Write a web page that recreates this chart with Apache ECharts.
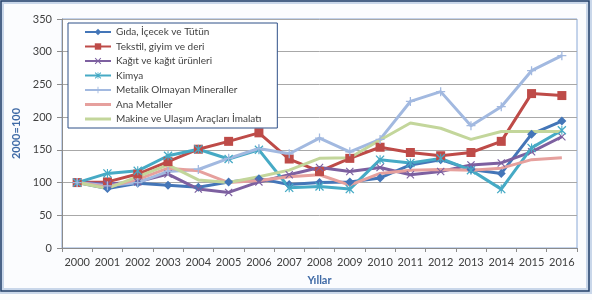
<!DOCTYPE html>
<html>
<head>
<meta charset="utf-8">
<script src="https://cdn.jsdelivr.net/npm/echarts@6.0.0/dist/echarts.min.js"></script>
<style>
  html, body { margin: 0; padding: 0; background: #fff; }
  #chart { width: 592px; height: 300px; }
</style>
</head>
<body>
<div id="chart"></div>
<script>
// --- Data ---

const years = ['2000', '2001', '2002', '2003', '2004', '2005', '2006', '2007', '2008',
    '2009', '2010', '2011', '2012', '2013', '2014', '2015', '2016'];

const gida     = [100, 91, 99, 96, 93, 101, 106, 97, 100, 101, 107, 127, 135, 120, 114, 174, 194];
const tekstil  = [100, 101, 113, 132, 151, 163, 176, 136, 117, 137, 154, 146, 141, 146, 163, 236, 233];
const kagit    = [100, 98, 101, 113, 90, 85, 101, 112, 123, 117, 123, 112, 117, 127, 130, 147, 170];
const kimya    = [100, 114, 118, 141, 151, 136, 150, 92, 94, 90, 135, 130, 137, 119, 90, 153, 180];
const metalik  = [100, 95, 100, 117, 120, 137, 152, 144, 168, 147, 166, 224, 239, 187, 216, 271, 294];
const anaMetal = [100, 93, 105, 122, 118, 100, 103, 109, 112, 96, 114, 119, 120, 119, 122, 135, 138];
const makine   = [100, 91, 109, 127, 104, 100, 109, 119, 137, 138, 165, 191, 183, 166, 178, 178, 178];

const seriesNames = ['Gıda, İçecek ve Tütün', 'Tekstil, giyim ve deri', 'Kağıt ve kağıt ürünleri',
    'Kimya', 'Metalik Olmayan Mineraller', 'Ana Metaller', 'Makine ve Ulaşım Araçları İmalatı'];

const yTicks = { min: 0, max: 350, interval: 50 };

// --- Marker shapes ---

const crossPath = 'path://M0,1L1,0L5,4L9,0L10,1L6,5L10,9L9,10L5,6L1,10L0,9L4,5Z';
const starPath = 'path://M0,1L1,0L5,4L9,0L10,1L6,5L10,9L9,10L5,6L1,10L0,9L4,5Z M4.4,0h1.2v10h-1.2z';
const plusPath = 'path://M4.3,0h1.4v10h-1.4z M0,4.3h10v1.4h-10z';
const plainLine = 'path://M0,0h26v3h-26z';

const mkSeries = (name, data, color, symbol, size) => ({
    name, type: 'line', data,
    symbol, symbolSize: size, showSymbol: symbol !== 'none',
    lineStyle: { color, width: 3 },
    itemStyle: { color },
    emphasis: { disabled: true }
});

const chart = echarts.init(document.getElementById('chart'));

const option = {
    animation: false,
    backgroundColor: '#fbfcfe',
    textStyle: { fontFamily: 'Lato, "Open Sans", sans-serif' },
    graphic: [
        { type: 'rect', z: -10, shape: { x: 1, y: 1, width: 588, height: 290 },
          style: { fill: 'none', stroke: '#c9d7ea', lineWidth: 6 } },
        { type: 'rect', z: -9, shape: { x: 1, y: 1, width: 588, height: 290 },
          style: { fill: 'none', stroke: '#23406a', lineWidth: 1.5 } }
    ],
    grid: {
        left: 62, right: 15, top: 19, bottom: 52,
        show: true, backgroundColor: '#fff', borderColor: '#8aa8d6', borderWidth: 1
    },
    legend: {
        orient: 'vertical', left: 68, top: 23,
        padding: [3, 16, 3, 16],
        backgroundColor: '#fff', borderColor: '#2f5088', borderWidth: 1,
        itemWidth: 26, itemHeight: 8, itemGap: 2.5,
        textStyle: { fontSize: 10, color: '#404040', lineHeight: 12 },
        data: seriesNames.map((name, i) => (i >= 5 ? { name, icon: plainLine } : { name }))
    },
    xAxis: {
        type: 'category', data: years, boundaryGap: true,
        name: 'Yıllar', nameLocation: 'middle', nameGap: 27,
        nameTextStyle: { color: '#3f6aa6', fontWeight: 'bold', fontSize: 11 },
        axisLine: { lineStyle: { color: '#8c8c8c' } },
        axisTick: { show: true, length: 4, lineStyle: { color: '#8c8c8c' } },
        axisLabel: { color: '#404040', fontSize: 11, margin: 9, interval: 0 }
    },
    yAxis: {
        type: 'value', ...yTicks,
        name: '2000=100', nameLocation: 'middle', nameGap: 40, nameRotate: 90,
        nameTextStyle: { color: '#3f6aa6', fontWeight: 'bold', fontSize: 11 },
        axisLine: { show: true, lineStyle: { color: '#8c8c8c' } },
        axisTick: { show: true, length: 5, lineStyle: { color: '#8c8c8c' } },
        axisLabel: { color: '#404040', fontSize: 11, margin: 10 },
        splitLine: { lineStyle: { color: '#a8a8a8' } }
    },
    series: [
        mkSeries(seriesNames[0], gida, '#4476b8', 'diamond', 9),
        mkSeries(seriesNames[1], tekstil, '#be4b48', 'rect', 9),
        mkSeries(seriesNames[2], kagit, '#7d60a0', crossPath, 8),
        mkSeries(seriesNames[3], kimya, '#46aac5', starPath, 9),
        mkSeries(seriesNames[4], metalik, '#a2b9e0', plusPath, 9),
        mkSeries(seriesNames[5], anaMetal, '#e6a09d', 'none', 0),
        mkSeries(seriesNames[6], makine, '#c3d69b', 'none', 0)
    ]
};

chart.setOption(option);
</script>
</body>
</html>
